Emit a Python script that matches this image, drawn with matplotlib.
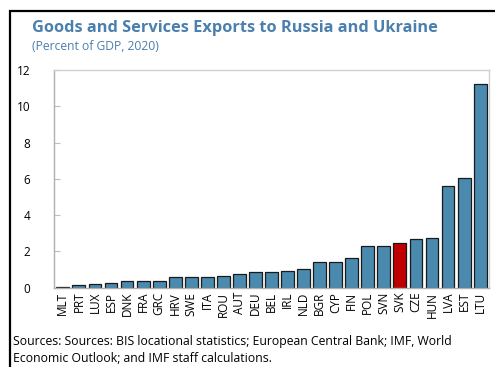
import matplotlib
matplotlib.use("Agg")
import matplotlib.pyplot as plt
from matplotlib.patches import Rectangle

countries = ["MLT", "PRT", "LUX", "ESP", "DNK", "FRA", "GRC", "HRV", "SWE", "ITA",
             "ROU", "AUT", "DEU", "BEL", "IRL", "NLD", "BGR", "CYP", "FIN", "POL",
             "SVN", "SVK", "CZE", "HUN", "LVA", "EST", "LTU"]
values = [0.03, 0.16, 0.20, 0.24, 0.35, 0.35, 0.38, 0.57, 0.57, 0.57,
          0.66, 0.74, 0.85, 0.87, 0.92, 1.05, 1.40, 1.43, 1.64, 2.30,
          2.30, 2.45, 2.70, 2.73, 5.63, 6.03, 11.23]
highlight = "SVK"
yticks = [0, 2, 4, 6, 8, 10, 12]

plt.rcParams['font.family'] = ['Open Sans', 'DejaVu Sans']

fig = plt.figure(figsize=(4.95, 3.67), dpi=100)
ax = fig.add_axes([54/495, 1-287.7/367, (489-54)/495, (287.7-70)/367])

colors = ["#C00000" if c == highlight else "#4A8AAF" for c in countries]
ax.bar(range(len(countries)), values, width=0.8, color=colors,
       edgecolor="#1a1a1a", linewidth=0.9)

ax.set_xlim(-0.55, len(countries) - 0.45)
ax.set_ylim(0, 12)
ax.set_yticks(yticks)
ax.set_yticklabels([str(t) for t in yticks], fontsize=8.5)
ax.set_xticks(range(len(countries)))
ax.set_xticklabels(countries, rotation=90, fontsize=8.5)
ax.tick_params(axis='x', length=0, pad=3)
ax.tick_params(axis='y', direction='in', length=4, color="#bfbfbf", pad=17)
for s in ["top", "right"]:
    ax.spines[s].set_color("#d0d0d0")
for s in ["left", "bottom"]:
    ax.spines[s].set_color("#b0b0b0")
for s in ax.spines.values():
    s.set_linewidth(1.0)

# frame
fig.add_artist(Rectangle((10/495, -0.05), 1.1, 1 - 11/367 + 0.05,
                         transform=fig.transFigure, fill=False,
                         edgecolor="black", linewidth=1.6))

fig.text(32/495, 1-28/367, "Goods and Services Exports to Russia and Ukraine",
         fontsize=11.8, fontweight='bold', color="#4A7FAE", va='center', ha='left')
fig.text(32/495, 1-46/367, "(Percent of GDP, 2020)", fontsize=8.7,
         color="#4A7FAE", va='center', ha='left')
fig.text(13/495, 1-341/367,
         "Sources: Sources: BIS locational statistics; European Central Bank; IMF, World",
         fontsize=8.8, va='center', ha='left')
fig.text(13/495, 1-358/367, "Economic Outlook; and IMF staff calculations.",
         fontsize=8.8, va='center', ha='left')

fig.savefig("out.png", dpi=100)
